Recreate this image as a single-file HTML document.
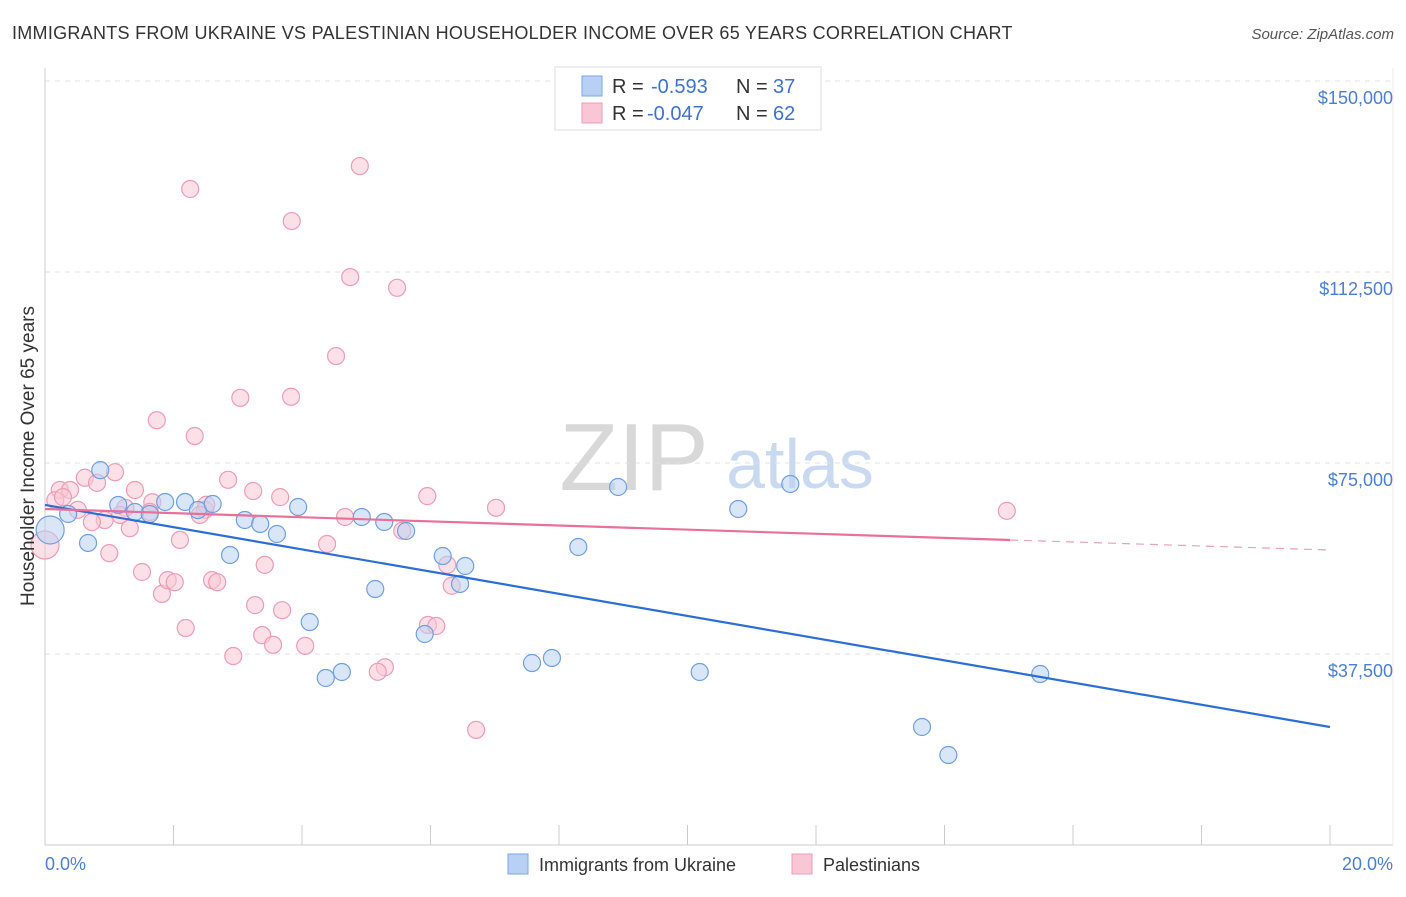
<!DOCTYPE html>
<html><head><meta charset="utf-8"><style>
body{margin:0;background:#fff;font-family:"Liberation Sans",sans-serif;}
svg text{font-family:"Liberation Sans",sans-serif;}
</style></head><body>
<svg width="1406" height="892" viewBox="0 0 1406 892" id="c">
<text x="12" y="39" font-size="18" letter-spacing="0.28" fill="#333">IMMIGRANTS FROM UKRAINE VS PALESTINIAN HOUSEHOLDER INCOME OVER 65 YEARS CORRELATION CHART</text>
<text x="1394" y="39" font-size="15" fill="#555" font-style="italic" text-anchor="end">Source: ZipAtlas.com</text>
<g>
<text x="634" y="490" font-size="96" fill="#d8d8d8" font-family="Liberation Serif" text-anchor="middle">ZIP</text>
<text x="800" y="488" font-size="70" fill="#c9daf0" text-anchor="middle">atlas</text>
</g>
<g id="grid"></g>
<g id="axes"></g>
<g id="marks"></g>
<text transform="translate(34,456) rotate(-90)" font-size="19" fill="#333" text-anchor="middle">Householder Income Over 65 years</text>
<text x="45" y="870" font-size="18" fill="#4a7fd4">0.0%</text>
<text x="1393" y="870" font-size="18" fill="#4a7fd4" text-anchor="end">20.0%</text>
<g>
<rect x="555" y="67" width="266" height="63" fill="#fff" stroke="#ddd"/>
<rect x="582" y="76" width="20" height="20" fill="#b8d1f3" stroke="#7aa6e6"/>
<rect x="582" y="103" width="20" height="20" fill="#f9c6d5" stroke="#ee9bb5"/>
<text x="612" y="93" font-size="20" fill="#333">R =</text>
<text x="651" y="93" font-size="20" fill="#3b73d1">-0.593</text>
<text x="736" y="93" font-size="20" fill="#333">N =</text>
<text x="773" y="93" font-size="20" fill="#3b73d1">37</text>
<text x="612" y="120" font-size="20" fill="#333">R =</text>
<text x="647" y="120" font-size="20" fill="#3b73d1">-0.047</text>
<text x="736" y="120" font-size="20" fill="#333">N =</text>
<text x="773" y="120" font-size="20" fill="#3b73d1">62</text>
</g>
<g>
<rect x="508" y="854" width="20" height="20" fill="#b8d1f3" stroke="#7aa6e6"/>
<text x="539" y="871" font-size="18" fill="#333">Immigrants from Ukraine</text>
<rect x="792" y="854" width="20" height="20" fill="#f9c6d5" stroke="#ee9bb5"/>
<text x="823" y="871" font-size="18" fill="#333">Palestinians</text>
</g>
</svg>
<script>
const yTicks=[37500,75000,112500,150000];
const yTickLabels=["$37,500","$75,000","$112,500","$150,000"];
const blueX=[0.86,0.36,0.67,1.14,1.40,1.63,1.87,2.18,2.38,2.61,2.88,3.11,3.35,3.61,3.94,4.12,4.37,4.62,4.93,5.14,5.28,5.62,5.91,6.19,6.46,6.54,7.58,7.89,8.30,8.92,10.19,10.79,11.60,13.65,14.06,15.49,0.08];
const blueY=[73600,64990,59300,66760,65380,64990,67350,67350,65770,66950,56940,63810,63030,61060,66360,43780,32790,33970,64400,50260,63420,61650,41430,56740,51250,54780,35730,36720,58510,70290,33970,65970,70880,23170,17670,33570,61850];
const pinkX=[2.26,4.90,3.84,4.75,5.48,4.53,3.04,3.83,1.74,2.33,0.23,0.39,0.62,0.81,1.09,1.40,1.67,1.25,0.93,0.73,1.32,2.10,2.49,2.85,3.24,3.66,2.51,1.00,1.51,1.82,1.91,2.02,2.19,2.60,2.68,2.93,3.27,3.38,3.42,3.55,3.69,4.05,4.39,4.67,5.29,5.18,5.56,5.96,6.09,6.26,6.33,5.95,7.02,6.71,14.97,0.0,0.16,0.51,1.63,0.28,1.17,2.41];
const pinkY=[128800,133300,122500,111500,109400,96000,87800,88000,83400,80300,69700,69700,72100,71100,73200,69700,67300,66200,63800,63400,62200,59900,65800,71700,69500,68300,66800,57300,53600,49300,52000,51600,42600,52000,51600,37100,47100,41200,55000,39300,46100,39100,59100,64400,34900,34000,61700,43200,43000,55000,50900,68500,66200,22600,65600,58900,67700,65800,65400,68300,64800,64800];
const blueTrend=[[0,66760],[20,23170]];
const pinkTrend=[[0,65970],[15.02,59880],[20,57920]];
const NS="http://www.w3.org/2000/svg";
function sx(v){return 45+v/20*1285;}
function sy(v){return 845-v/37500*191;}
function mk(t,a,p){const e=document.createElementNS(NS,t);for(const k in a)e.setAttribute(k,a[k]);p.appendChild(e);return e;}
const grid=document.getElementById('grid'),axes=document.getElementById('axes'),marks=document.getElementById('marks');
yTicks.forEach((v,i)=>{
 const l=mk('line',{x1:45,x2:1393,y1:sy(v),y2:sy(v),stroke:'#e0e0e0','stroke-dasharray':'5,5'},grid);
 
 
 const t=mk('text',{x:1393,y:sy(v)+23,'font-size':18,fill:'#4a7fd4','text-anchor':'end'},axes);
 t.textContent=yTickLabels[i];
 
 
});
const ax=mk('line',{x1:45,x2:45,y1:68,y2:845,stroke:'#ccc'},axes);


const ax2=mk('line',{x1:45,x2:1393,y1:845,y2:845,stroke:'#ccc'},axes);


const ax3=mk('line',{x1:1393,x2:1393,y1:68,y2:845,stroke:'#eee'},axes);


for(let i=0;i<=10;i++){
 const t=mk('line',{x1:sx(i*2),x2:sx(i*2),y1:825,y2:845,stroke:'#ccc'},axes);
 
 
}
function dots(X,Y,fill,stroke,name){
 X.forEach((x,i)=>{
  const big=(x<0.1);
  const c=mk('circle',{cx:sx(x),cy:sy(Y[i]),r:big?14:8.5,fill:fill,'fill-opacity':0.55,stroke:stroke,'stroke-width':1.2},marks);
  
  
 });
}
dots(pinkX,pinkY,'#f9c6d5','#ee9bb5','palestinian-point');
dots(blueX,blueY,'#b8d1f3','#6f9fe0','ukraine-point');
const bl=mk('line',{x1:sx(blueTrend[0][0]),y1:sy(blueTrend[0][1]),x2:sx(blueTrend[1][0]),y2:sy(blueTrend[1][1]),stroke:'#2b6ed6','stroke-width':2.2},marks);


const pl=mk('line',{x1:sx(pinkTrend[0][0]),y1:sy(pinkTrend[0][1]),x2:sx(pinkTrend[1][0]),y2:sy(pinkTrend[1][1]),stroke:'#e8709a','stroke-width':2.2},marks);


const pd=mk('line',{x1:sx(pinkTrend[1][0]),y1:sy(pinkTrend[1][1]),x2:sx(pinkTrend[2][0]),y2:sy(pinkTrend[2][1]),stroke:'#e8a0b8','stroke-width':1.2,'stroke-dasharray':'8,6'},marks);


</script>
</body></html>
